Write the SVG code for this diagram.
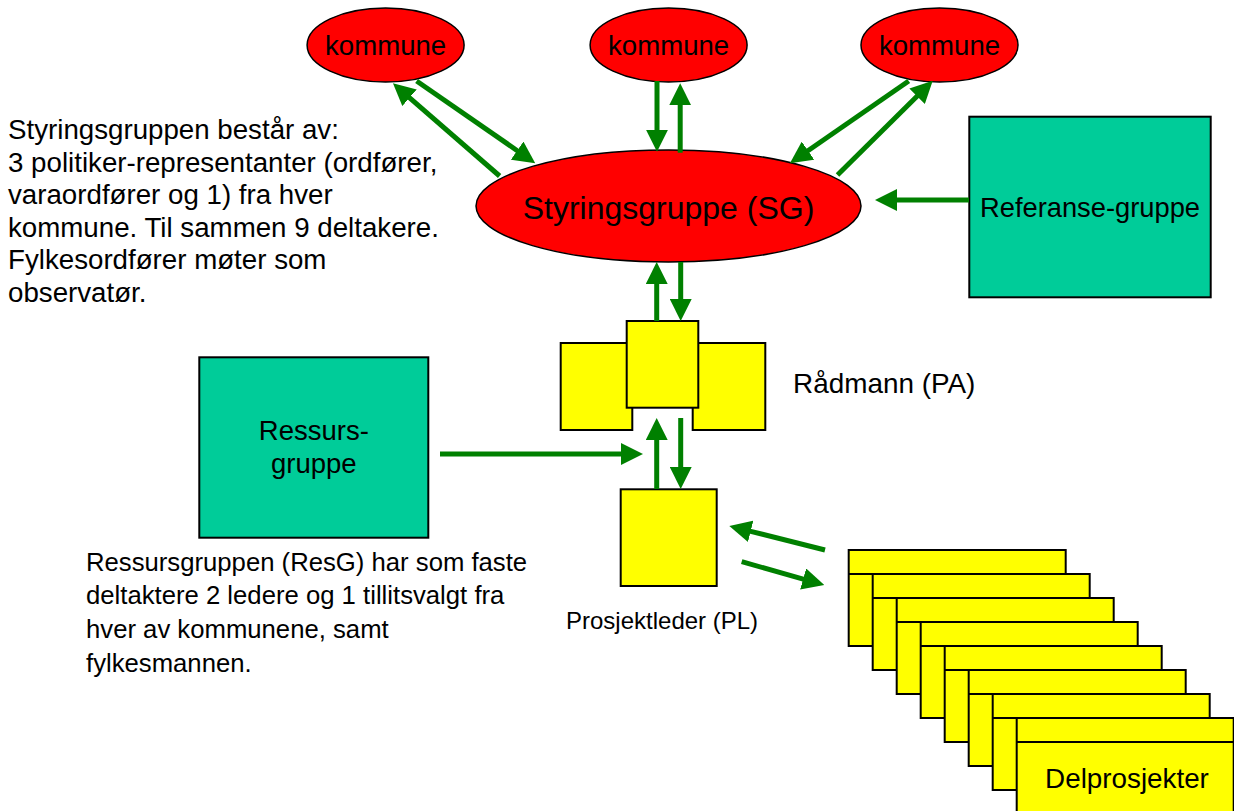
<svg xmlns="http://www.w3.org/2000/svg" width="1234" height="811" viewBox="0 0 1234 811">
<defs>
<marker id="ah" markerUnits="userSpaceOnUse" markerWidth="22" markerHeight="22" refX="1" refY="11" orient="auto">
<path d="M0,0 L22,11 L0,22 z" fill="#008000"/>
</marker>
<style>
text{font-family:"Liberation Sans",Arial,sans-serif;fill:#000}
.red{fill:#FF0000;stroke:#000;stroke-width:1.5}
.teal{fill:#00CC99;stroke:#000;stroke-width:2}
.yel{fill:#FFFF00;stroke:#000;stroke-width:2}
.c{text-anchor:middle}
.conn line{stroke:#008000;stroke-width:5;marker-end:url(#ah)}
.dp line{stroke:#000;stroke-width:2}
</style>
</defs>
<rect width="1234" height="811" fill="#fff"/>

<g id="kommune1"><ellipse class="red" cx="385.6" cy="45" rx="78.5" ry="37"/><text class="c" x="385.6" y="55" font-size="27.6">kommune</text></g>
<g id="kommune2"><ellipse class="red" cx="668.6" cy="45" rx="78.5" ry="37"/><text class="c" x="668.6" y="55" font-size="27.6">kommune</text></g>
<g id="kommune3"><ellipse class="red" cx="939.5" cy="45" rx="78.5" ry="37"/><text class="c" x="939.5" y="55" font-size="27.6">kommune</text></g>

<g id="styringsgruppe"><ellipse class="red" cx="668.5" cy="206" rx="192.5" ry="56"/><text class="c" x="668.5" y="219" font-size="32">Styringsgruppe (SG)</text></g>

<g id="referansegruppe"><rect class="teal" x="969.3" y="116.7" width="241.4" height="180.6"/><text class="c" x="1090" y="216.7" font-size="27.3">Referanse-gruppe</text></g>

<g id="ressursgruppe"><rect class="teal" x="199.3" y="357.3" width="229" height="180.4"/><text class="c" x="313.8" y="440" font-size="27.5">Ressurs-</text><text class="c" x="313.8" y="473" font-size="27.5">gruppe</text></g>

<g id="radmann">
<rect class="yel" x="560.7" y="343" width="71.6" height="87"/>
<rect class="yel" x="692.7" y="343" width="72.6" height="87"/>
<rect class="yel" x="626.7" y="321" width="71.6" height="86.7"/>
<text x="793" y="393" font-size="27.9">Rådmann (PA)</text>
</g>

<g id="prosjektleder">
<rect class="yel" x="620.7" y="489.3" width="96" height="96.7"/>
<text x="566" y="629.3" font-size="24">Prosjektleder (PL)</text>
</g>

<g id="delprosjekter" class="dp">
<g><rect class="yel" x="848.7" y="550" width="217" height="96"/><line x1="848.7" y1="574" x2="1065.7" y2="574"/></g>
<g><rect class="yel" x="872.7" y="574" width="217" height="96"/><line x1="872.7" y1="598" x2="1089.7" y2="598"/></g>
<g><rect class="yel" x="896.7" y="598" width="217" height="96"/><line x1="896.7" y1="622" x2="1113.7" y2="622"/></g>
<g><rect class="yel" x="920.7" y="622" width="217" height="96"/><line x1="920.7" y1="646" x2="1137.7" y2="646"/></g>
<g><rect class="yel" x="944.7" y="646" width="217" height="96"/><line x1="944.7" y1="670" x2="1161.7" y2="670"/></g>
<g><rect class="yel" x="968.7" y="670" width="217" height="96"/><line x1="968.7" y1="694" x2="1185.7" y2="694"/></g>
<g><rect class="yel" x="992.7" y="694" width="217" height="96"/><line x1="992.7" y1="718" x2="1209.7" y2="718"/></g>
<g><rect class="yel" x="1016.7" y="718" width="217" height="96"/><line x1="1016.7" y1="742" x2="1233.7" y2="742"/></g>
<text class="c" x="1127" y="788" font-size="27.8">Delprosjekter</text>
</g>

<g id="text-styringsgruppen" font-size="27.7">
<text x="8" y="139.3">Styringsgruppen består av:</text>
<text x="8" y="171.8">3 politiker-representanter (ordfører,</text>
<text x="8" y="204.3">varaordfører og 1) fra hver</text>
<text x="8" y="236.8">kommune. Til sammen 9 deltakere.</text>
<text x="8" y="269.3">Fylkesordfører møter som</text>
<text x="8" y="301.8">observatør.</text>
</g>

<g id="text-ressursgruppen" font-size="25.7">
<text x="86" y="570.7">Ressursgruppen (ResG) har som faste</text>
<text x="86" y="604.3">deltaktere 2 ledere og 1 tillitsvalgt fra</text>
<text x="86" y="638">hver av kommunene, samt</text>
<text x="86" y="671.7">fylkesmannen.</text>
</g>

<g id="connectors" class="conn">
<line x1="416.6" y1="81" x2="518" y2="151.2"/>
<line x1="499.6" y1="176" x2="408.8" y2="97.1"/>
<line x1="657" y1="81" x2="657" y2="130.7"/>
<line x1="680.2" y1="152.7" x2="680.2" y2="104.3"/>
<line x1="908.7" y1="81" x2="807.2" y2="151.2"/>
<line x1="837.5" y1="175" x2="917.8" y2="95.5"/>
<line x1="969" y1="200" x2="896" y2="200"/>
<line x1="440" y1="454" x2="622" y2="454"/>
<line x1="656.7" y1="321" x2="656.7" y2="283"/>
<line x1="680.7" y1="262" x2="680.7" y2="300"/>
<line x1="656.7" y1="489" x2="656.7" y2="439"/>
<line x1="680.7" y1="418" x2="680.7" y2="468"/>
<line x1="825" y1="550" x2="749.7" y2="531.1"/>
<line x1="741.7" y1="561.7" x2="804.1" y2="579.3"/>
</g>
</svg>
